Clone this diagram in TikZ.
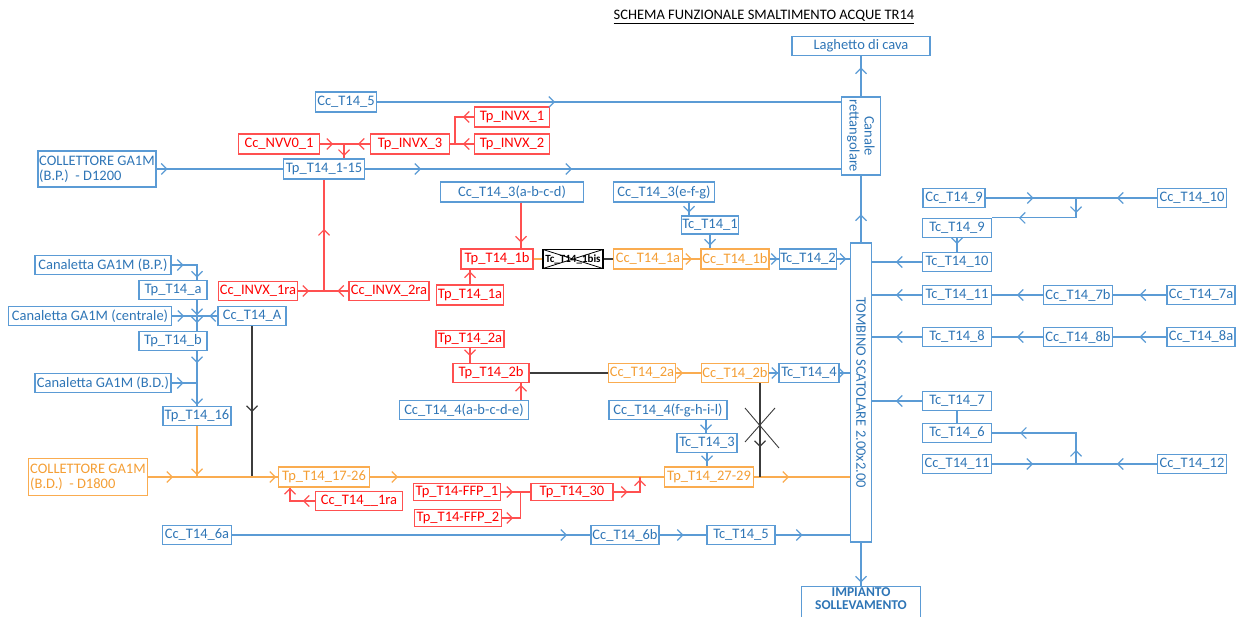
\documentclass[tikz,border=0pt]{standalone}
\usepackage{fontspec}
\setmainfont{Carlito}
\usetikzlibrary{arrows.meta}
\usetikzlibrary{decorations.markings}

\definecolor{tblue}{RGB}{46,117,182}
\definecolor{lblue}{RGB}{91,155,213}
\definecolor{rline}{RGB}{255,80,80}
\definecolor{rtext}{RGB}{255,0,0}
\definecolor{oline}{RGB}{250,172,80}
\definecolor{otext}{RGB}{244,158,52}
\definecolor{kline}{RGB}{60,60,60}

\tikzset{
	chev/.tip={Straight Barb[length=5.5pt,width=11pt]},
	arat/.style={postaction={decorate,decoration={markings,mark=at position #1pt with {\arrow{chev}}}}},
	box/.style={draw,line width=1.2pt,inner sep=1pt,minimum height=19,font=\fontsize{14.5}{15}\selectfont},
	bbox/.style={box,draw=lblue,text=tblue},
	rbox/.style={box,draw=rline,text=rtext},
	obox/.style={box,draw=oline,text=otext},
	bl/.style={draw=lblue,line width=1.2pt},
	rl/.style={draw=rline,line width=1.2pt},
	ol/.style={draw=oline,line width=1.2pt},
	kl/.style={draw=kline,line width=1.2pt},
}

\begin{document}
\begin{tikzpicture}[x=1pt,y=-1pt]
\useasboundingbox (0,0) rectangle (1240,617);
\clip (0,0) rectangle (1240,617);
\node[font=\fontsize{14.5}{15}\selectfont] (title) at (764,17) {\underline{SCHEMA FUNZIONALE SMALTIMENTO ACQUE TR14}};

% recapiti finali
\node[bbox,minimum width=138] (lago) at (861,46) {Laghetto di cava};
\node[bbox,rotate=-90,align=center,minimum width=78,minimum height=39] (canale) at (861,136) {Canale\\rettangolare};
\node[bbox,rotate=-90,minimum width=299,minimum height=21] (tomb) at (861,392.5) {TOMBINO SCATOLARE 2.00x2.00};
\node[bbox,anchor=north,align=center,minimum width=119,minimum height=0,text depth=11pt,font=\fontsize{13.5}{13.5}\selectfont\bfseries] (imp) at (861,586) {IMPIANTO\\SOLLEVAMENTO};

% rami blu
\node[bbox,minimum width=61,minimum height=20] (cc5) at (346,102) {Cc\_T14\_5};
\node[bbox,align=left,minimum width=118,minimum height=36] (collBP) at (97,169) {COLLETTORE GA1M\\(B.P.)\ \ - D1200};
\node[bbox,minimum width=81,minimum height=20] (tp115) at (324,169) {Tp\_T14\_1-15};
\node[bbox,minimum width=143,minimum height=20] (cc3a) at (512,192) {Cc\_T14\_3(a-b-c-d)};
\node[bbox,minimum width=101,minimum height=20] (cc3e) at (664,192) {Cc\_T14\_3(e-f-g)};
\node[bbox,minimum width=57,minimum height=18] (tc1) at (710,225) {Tc\_T14\_1};
\node[bbox,minimum width=57,minimum height=20] (tc2) at (808,259) {Tc\_T14\_2};
\node[bbox,minimum width=136] (canBP) at (103,265) {Canaletta GA1M (B.P.)};
\node[bbox,minimum width=68] (tpa) at (173,290) {Tp\_T14\_a};
\node[bbox,minimum width=163] (canC) at (90,316) {Canaletta GA1M (centrale)};
\node[bbox,minimum width=68] (ccA) at (252,316) {Cc\_T14\_A};
\node[bbox,minimum width=68] (tpb) at (173,341) {Tp\_T14\_b};
\node[bbox,minimum width=136] (canBD) at (103,383) {Canaletta GA1M (B.D.)};
\node[bbox,minimum width=68] (tp16) at (197,416) {Tp\_T14\_16};
\node[bbox,minimum width=129] (cc4a) at (464,410) {Cc\_T14\_4(a-b-c-d-e)};
\node[bbox,minimum width=118] (cc4f) at (668,410) {Cc\_T14\_4(f-g-h-i-l)};
\node[bbox,minimum width=60] (tc3) at (707,443) {Tc\_T14\_3};
\node[bbox,minimum width=60] (tc4) at (809,373) {Tc\_T14\_4};
\node[bbox,minimum width=69] (cc6a) at (197,535) {Cc\_T14\_6a};
\node[bbox,minimum width=68] (cc6b) at (625,535) {Cc\_T14\_6b};
\node[bbox,minimum width=68] (tc5) at (741,535) {Tc\_T14\_5};

% rami blu a destra
\node[bbox,minimum width=62] (cc9) at (954,198) {Cc\_T14\_9};
\node[bbox,minimum width=69] (cc10) at (1192,198) {Cc\_T14\_10};
\node[bbox,minimum width=69] (tc9) at (957,228) {Tc\_T14\_9};
\node[bbox,minimum width=69] (tc10) at (957,262) {Tc\_T14\_10};
\node[bbox,minimum width=69] (tc11) at (957,295) {Tc\_T14\_11};
\node[bbox,minimum width=69] (cc7b) at (1078,295) {Cc\_T14\_7b};
\node[bbox,minimum width=68] (cc7a) at (1201,295) {Cc\_T14\_7a};
\node[bbox,minimum width=69] (tc8) at (957,337) {Tc\_T14\_8};
\node[bbox,minimum width=69] (cc8b) at (1078,337) {Cc\_T14\_8b};
\node[bbox,minimum width=68] (cc8a) at (1201,337) {Cc\_T14\_8a};
\node[bbox,minimum width=69] (tc7) at (957,401) {Tc\_T14\_7};
\node[bbox,minimum width=69] (tc6) at (957,433) {Tc\_T14\_6};
\node[bbox,minimum width=69] (cc11) at (957,464) {Cc\_T14\_11};
\node[bbox,minimum width=69] (cc12) at (1192,464) {Cc\_T14\_12};

% rami rossi
\node[rbox,minimum width=75,minimum height=20] (inv1) at (512,117) {Tp\_INVX\_1};
\node[rbox,minimum width=75,minimum height=20] (inv2) at (512,144) {Tp\_INVX\_2};
\node[rbox,minimum width=79,minimum height=20] (inv3) at (410,144) {Tp\_INVX\_3};
\node[rbox,minimum width=81,minimum height=20] (nvv) at (279,144) {Cc\_NVV0\_1};
\node[rbox,minimum width=79] (inx1) at (258,291) {Cc\_INVX\_1ra};
\node[rbox,minimum width=80] (inx2) at (389,291) {Cc\_INVX\_2ra};
\node[rbox,minimum width=72,minimum height=20] (tp1b) at (497,259) {Tp\_T14\_1b};
\node[rbox,minimum width=67,minimum height=20] (tp1a) at (470,295) {Tp\_T14\_1a};
\node[rbox,minimum width=68,minimum height=17] (tp2a) at (470,339) {Tp\_T14\_2a};
\node[rbox,minimum width=76] (tp2b) at (491,373) {Tp\_T14\_2b};
\node[rbox,minimum width=87] (cc1ra) at (359,501) {Cc\_T14\_\_1ra};
\node[rbox,minimum width=87,minimum height=17] (ffp1) at (457,492) {Tp\_T14-FFP\_1};
\node[rbox,minimum width=87,minimum height=17] (ffp2) at (458,518) {Tp\_T14-FFP\_2};
\node[rbox,minimum width=82,minimum height=17] (tp30) at (572,492) {Tp\_T14\_30};

% rami arancio
\node[obox,align=left,minimum width=119,minimum height=37] (collBD) at (88,477) {COLLETTORE GA1M\\(B.D.)\ \ - D1800};
\node[obox,minimum width=91,minimum height=20] (tp1726) at (324,477) {Tp\_T14\_17-26};
\node[obox,minimum width=89,minimum height=20] (tp2729) at (709,477) {Tp\_T14\_27-29};
\node[obox,minimum width=69,minimum height=20] (cc1a) at (648,259) {Cc\_T14\_1a};
\node[obox,minimum width=68,minimum height=20] (cc1b) at (735,259) {Cc\_T14\_1b};
\node[obox,minimum width=67] (cc2a) at (642,373) {Cc\_T14\_2a};
\node[obox,minimum width=67] (cc2b) at (735,373) {Cc\_T14\_2b};

% tratto dismesso
\node[box,draw=black,minimum width=60,font=\fontsize{11}{12}\selectfont\bfseries,
	path picture={\draw[black,line width=0.8pt] (path picture bounding box.north west) -- (path picture bounding box.south east) (path picture bounding box.south west) -- (path picture bounding box.north east);}] (tc1bis) at (573,259) {Tc\_T14\_1bis};

% collegamenti canale / tombino
\draw[bl,arat=29] (canale.west) -- (lago.south);
\draw[bl,arat=28] (tomb.west) -- (canale.east);
\draw[bl,arat=40] (tomb.east) -- (imp.north);

% ramo superiore
\draw[bl,arat=178] (cc5.east) -- (cc5.east -| canale.south);
\draw[bl,arat=11] (collBP.east) -- (tp115.west);
\draw[bl,arat=56,arat=207] (tp115.east) -- (tp115.east -| canale.south);
\coordinate (jinv) at (455,144);
\coordinate (jnvv) at (344,144);
\draw[rl,arat=11] (inv1.west) -| (jinv) -- (inv3.east);
\draw[rl,arat=11] (inv2.west) -- (jinv);
\draw[rl,arat=12] (inv3.west) -- (jnvv);
\draw[rl,arat=13] (nvv.east) -- (jnvv);
\draw[rl,arat=12] (jnvv) -- (jnvv |- tp115.north);
\coordinate (jinx) at (tp115.south |- inx1.east);
\draw[rl,arat=62] (jinx) -- (tp115.south);
\draw[rl,arat=11] (inx1.east) -- (jinx);
\draw[rl,arat=11] (inx2.west) -- (jinx);

% linea T14_1 / T14_2
\draw[rl,arat=40] ([xshift=9]cc3a.south) -- ([xshift=9]cc3a.south |- tp1b.north);
\draw[rl,arat=13] (tp1a.north) -- (tp1a.north |- tp1b.south);
\draw[ol,arat=9] (tp1b.east) -- (tc1bis.west);
\draw[kl,arat=10] (tc1bis.east) -- (cc1a.west);
\draw[ol,arat=9] (cc1a.east) -- (cc1b.west);
\draw[bl,arat=8] (cc1b.east) -- (tc2.west);
\draw[bl,arat=9] (tc2.east) -- (tc2.east -| tomb.south);
\draw[bl,arat=10] ([xshift=25]cc3e.south) -- ([xshift=25]cc3e.south |- tc1.north);
\draw[bl,arat=11] (tc1.south) -- (tc1.south |- cc1b.north);

% lato destro
\coordinate (j9) at (1076,198);
\draw[bl,arat=48] (cc9.east) -- (j9);
\draw[bl,arat=40] (cc10.west) -- (j9);
\draw[bl,arat=15,arat=77] (j9) |- (tc9.north east);
\draw[bl,arat=6] (tc9.south) -- (tc10.north);
\draw[bl,arat=26] (tc10.west) -- (tc10.west -| tomb.north);
\draw[bl,arat=27] (cc7a.west) -- (cc7b.east);
\draw[bl,arat=26] (cc7b.west) -- (tc11.east);
\draw[bl,arat=26] (tc11.west) -- (tc11.west -| tomb.north);
\draw[bl,arat=27] (cc8a.west) -- (cc8b.east);
\draw[bl,arat=26] (cc8b.west) -- (tc8.east);
\draw[bl,arat=26] (tc8.west) -- (tc8.west -| tomb.north);
\draw[bl,arat=26] (tc7.west) -- (tc7.west -| tomb.north);
\draw[bl,arat=12] (tc6.north) -- (tc7.south);
\coordinate (j11) at (1076,464);
\draw[bl,arat=41] (cc11.east) -- (j11);
\draw[bl,arat=40] (cc12.west) -- (j11);
\draw[bl,arat=14,arat=87] (j11) |- (tc6.east);

% lato sinistro
\draw[bl,arat=12,arat=38] (canBP.east) -| (tpa.north -| tp16.north);
\draw[bl,arat=15,arat=23] (tpa.south -| tp16.north) -- (tpb.north -| tp16.north);
\draw[bl,arat=12] (canC.east) -- (canC.east -| tp16.north);
\draw[bl,arat=8] (ccA.west) -- (ccA.west -| tp16.north);
\draw[bl,arat=12,arat=54] (tpb.south -| tp16.north) -- (tp16.north);
\draw[bl,arat=12] (canBD.east) -- (canBD.east -| tp16.north);
\draw[ol,arat=49] (tp16.south) -- (tp16.south |- tp1726.west);
\draw[kl,arat=86] (ccA.south) -- (ccA.south |- tp1726.west);

% collettore B.D.
\draw[ol,arat=25,arat=128] (collBD.east) -- (tp1726.west);
\draw[ol,arat=28] (tp1726.east) -- (tp2729.west);
\draw[ol,arat=35] (tp2729.east) -- (tp2729.east -| tomb.south);
\draw[rl,arat=12,arat=38] (cc1ra.west) -| ([xshift=-34]tp1726.south);
\draw[rl,arat=12] (ffp1.east) -- (tp30.west);
\draw[rl,arat=11] (ffp2.east) -| ([xshift=-10]tp30.west);
\coordinate (j30) at (640,477);
\draw[rl,arat=14,arat=39] (tp30.east) -| (j30);

% linea T14_6
\draw[bl,arat=335] (cc6a.east) -- (cc6b.west);
\draw[bl,arat=24] (cc6b.east) -- (tc5.west);
\draw[bl,arat=27] (tc5.east) -- (tc5.east -| tomb.south);

% linea T14_2 / T14_4
\draw[rl,arat=8] (tp2a.south) -- (tp2a.south |- tp2b.north);
\draw[rl,arat=15] ([xshift=57]cc4a.north) -- ([xshift=57]cc4a.north |- tp2b.south);
\draw[kl,arat=79] (tp2b.east) -- (cc2a.west);
\draw[ol,arat=7] (cc2a.east) -- (cc2b.west);
\draw[bl,arat=9] (cc2b.east) -- (tc4.west);
\draw[bl,arat=5] (tc4.east) -- (tc4.east -| tomb.south);
\draw[kl,arat=64] ([xshift=25]cc2b.south) -- ([xshift=25]cc2b.south |- tp2729.east);
\draw[kl,line width=0.9pt] (745,408) -- (779,448) (775,408) -- (745,442);
\draw[bl,arat=11] ([xshift=38]cc4f.south) -- ([xshift=38]cc4f.south |- tc3.north);
\draw[bl,arat=9] (tc3.south) -- (tc3.south |- tp2729.north);
\end{tikzpicture}
\end{document}
